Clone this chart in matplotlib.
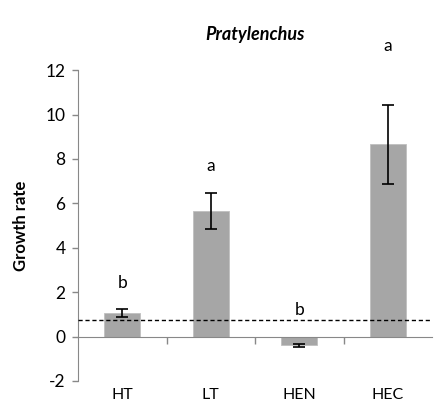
import matplotlib
matplotlib.use("Agg")
import matplotlib.pyplot as plt
import matplotlib.transforms as mtransforms

# data
groups = ["HT", "LT", "HEN", "HEC"]
growth = [1.07, 5.65, -0.4, 8.67]
errors = [0.17, 0.8, 0.08, 1.78]
letters = ["b", "a", "b", "a"]
letter_y = [2.4, 7.7, 1.2, 13.1]
baseline = 0.75

plt.rcParams["font.family"] = ["Lato", "DejaVu Sans"]
plt.rcParams["axes.unicode_minus"] = False

fig = plt.figure(figsize=(4.36, 4.15), dpi=100)
ax = fig.add_axes([0.179, 0.082, 0.812, 0.749])

x = list(range(len(groups)))
ax.bar(x, growth, width=0.41, color="#a6a6a6", edgecolor="#bfbfbf", linewidth=0.6, zorder=2)
ax.errorbar(x, growth, yerr=errors, fmt="none", ecolor="black", elinewidth=1.2,
            capsize=4.5, capthick=1.2, zorder=3)
ax.axhline(baseline, color="black", linestyle=(0, (3, 2)), linewidth=1.0, zorder=4)

for xi, lab, ly in zip(x, letters, letter_y):
    ax.text(xi, ly, lab, ha="center", va="center", fontsize=12.5, clip_on=False)

ax.set_xlim(-0.5, 3.5)
ax.set_ylim(-2, 12)
ax.set_yticks(range(-2, 13, 2))
ax.tick_params(axis="y", labelsize=12.5, length=4, color="#888888", width=1, pad=5)

# category axis sits on zero
ax.spines["bottom"].set_position(("data", 0))
ax.spines["bottom"].set_color("#888888")
ax.spines["left"].set_color("#888888")
ax.spines["top"].set_visible(False)
ax.spines["right"].set_visible(False)
ax.set_xticks([0.5, 1.5, 2.5])
ax.set_xticklabels([])
ax.tick_params(axis="x", length=5, color="#888888", width=1, direction="out")

trans = mtransforms.blended_transform_factory(ax.transData, ax.transAxes)
for xi, g in zip(x, groups):
    ax.text(xi, -0.045, g, transform=trans, ha="center", va="center", fontsize=11.5)

ax.set_ylabel("Growth rate", fontsize=12, fontweight="bold", labelpad=12)
fig.text(0.585, 0.918, "Pratylenchus", ha="center", va="center", fontsize=13,
         fontweight="bold", fontstyle="italic")

fig.savefig("out.png", dpi=100)
